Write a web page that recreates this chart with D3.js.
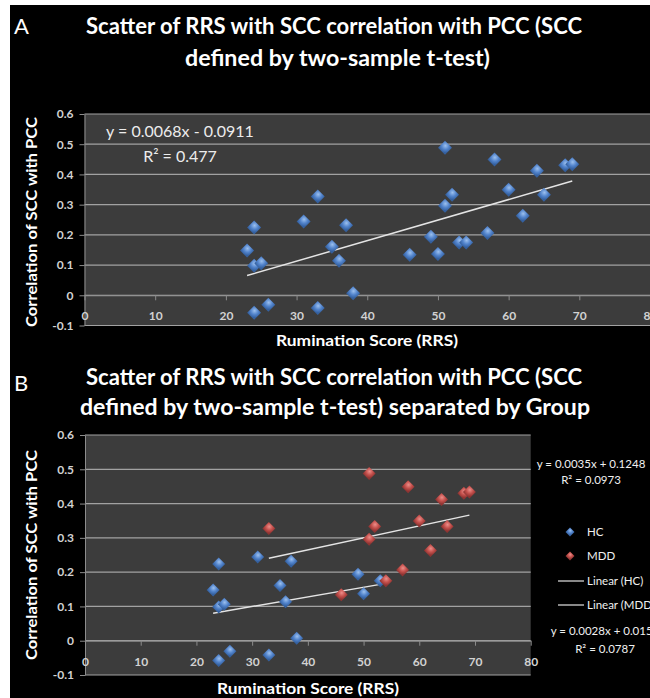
<!DOCTYPE html>
<html>
<head>
<meta charset="utf-8">
<title>RRS vs SCC-PCC correlation</title>
<script src="https://d3js.org/d3.v7.min.js"></script>
<style>
  body { margin: 0; background: #fff; }
  svg { display: block; }
  text { font-family: Lato, "Open Sans", sans-serif; }
</style>
</head>
<body>
<script>
// values
var hcRRS  = [23, 24, 24, 25, 24, 26, 31, 33, 35, 36, 37, 38, 49, 50, 53];
var hcCorr = [0.148, 0.224, 0.098, 0.106, -0.058, -0.031, 0.244, -0.042, 0.161, 0.114, 0.232, 0.007, 0.194, 0.137, 0.175];
var mddRRS  = [33, 46, 51, 51, 52, 54, 57, 58, 60, 62, 64, 65, 68, 69];
var mddCorr = [0.327, 0.134, 0.488, 0.296, 0.333, 0.175, 0.206, 0.449, 0.349, 0.263, 0.412, 0.333, 0.430, 0.434];

var xTicks = [0, 10, 20, 30, 40, 50, 60, 70, 80];
var yTicks = [-0.1, 0, 0.1, 0.2, 0.3, 0.4, 0.5, 0.6];

// trend lines as printed on the chart [slope, intercept]
var fitAll = [0.0068, -0.0911];
var fitHC  = [0.0028, 0.0159];
var fitMDD = [0.0035, 0.1248];

var legendNames = ["HC", "MDD", "Linear (HC)", "Linear (MDD)"];

var width = 650, height = 698;

var svg = d3.select("body").append("svg")
  .attr("width", width)
  .attr("height", height);

// black page with a thin white margin on left/top
svg.append("rect").attr("x", 10).attr("y", 5)
  .attr("width", width - 10).attr("height", height - 5)
  .attr("fill", "#000");

// diamond shading
var defs = svg.append("defs");
function grad(id, c0, c1, c2) {
  var g = defs.append("radialGradient").attr("id", id)
    .attr("cx", "38%").attr("cy", "32%").attr("r", "70%");
  g.append("stop").attr("offset", "0%").attr("stop-color", c0);
  g.append("stop").attr("offset", "55%").attr("stop-color", c1);
  g.append("stop").attr("offset", "100%").attr("stop-color", c2);
}
grad("gBlue", "#9cc0ee", "#5284cc", "#34609f");
grad("gRed", "#ec8e8a", "#c4504c", "#8e3432");

function pts(xs, ys) {
  return xs.map(function(v, i) { return {x: v, y: ys[i]}; });
}
var hc = pts(hcRRS, hcCorr);
var mdd = pts(mddRRS, mddCorr);

function diamond(g, data, fill, half, x, y) {
  var side = half * Math.SQRT2;
  g.selectAll(null).data(data).enter().append("path")
    .attr("d", d3.symbol(d3.symbolSquare, side * side)())
    .attr("transform", function(d) { return "translate(" + x(d.x) + "," + y(d.y) + ") rotate(45)"; })
    .attr("fill", fill);
}

function trend(g, fit, xs, x, y) {
  var x0 = d3.min(xs), x1 = d3.max(xs);
  g.append("line")
    .attr("x1", x(x0)).attr("y1", y(fit[0] * x0 + fit[1]))
    .attr("x2", x(x1)).attr("y2", y(fit[0] * x1 + fit[1]))
    .attr("stroke", "#e4e4e4").attr("stroke-width", 1.5);
}

function panel(box, labPad) {
  var x = d3.scaleLinear().domain([0, 80]).range([box.left, box.right]);
  var y = d3.scaleLinear().domain([-0.1, 0.6]).range([box.bottom, box.top]);
  var g = svg.append("g");

  g.append("rect")
    .attr("x", box.left).attr("y", box.top)
    .attr("width", box.right - box.left).attr("height", box.bottom - box.top)
    .attr("fill", "#3c3c3c");

  // gridlines
  g.selectAll(null).data(yTicks).enter().append("line")
    .attr("x1", box.left).attr("x2", box.right)
    .attr("y1", function(d) { return y(d); }).attr("y2", function(d) { return y(d); })
    .attr("stroke", "#a2a2a2").attr("stroke-width", 1.2);

  var yAx = g.append("g").attr("transform", "translate(" + box.left + ",0)")
    .call(d3.axisLeft(y).tickValues(yTicks).tickSize(5).tickSizeOuter(0).tickPadding(6)
      .tickFormat(function(d) { return d === 0 ? "0" : d.toFixed(1); }));

  var xAx = g.append("g").attr("transform", "translate(0," + y(0) + ")")
    .call(d3.axisBottom(x).tickValues(xTicks).tickSize(5).tickSizeOuter(0).tickPadding(labPad)
      .tickFormat(d3.format("d")));

  [yAx, xAx].forEach(function(a) {
    a.select(".domain").attr("stroke", "#8c8c8c");
    a.selectAll(".tick line").attr("stroke", "#8c8c8c");
    a.selectAll(".tick text").attr("fill", "#d2d2d2")
      .style("font-size", "12px").style("font-weight", "bold");
  });

  return {g: g, x: x, y: y};
}

function title(lines, tag, tagY) {
  svg.append("text").attr("x", 14).attr("y", tagY).text(tag)
    .attr("fill", "#fff").style("font-size", "22px");
  lines.forEach(function(l) {
    svg.append("text").attr("x", l.x).attr("y", l.y).text(l.t)
      .attr("textLength", l.w).attr("lengthAdjust", "spacingAndGlyphs")
      .attr("fill", "#fff").style("font-size", "22px").style("font-weight", "bold");
  });
}

function axisTitles(cx, by, cy) {
  svg.append("text").attr("x", cx).attr("y", by).text("Rumination Score (RRS)")
    .attr("text-anchor", "middle").attr("textLength", 182).attr("lengthAdjust", "spacingAndGlyphs")
    .attr("fill", "#fff").style("font-size", "15px").style("font-weight", "bold");
  svg.append("text")
    .attr("transform", "translate(37," + cy + ") rotate(-90)")
    .text("Correlation of SCC with PCC")
    .attr("text-anchor", "middle").attr("textLength", 210).attr("lengthAdjust", "spacingAndGlyphs")
    .attr("fill", "#fff").style("font-size", "15px").style("font-weight", "bold");
}

// ---- panel A
title([
  {t: "Scatter of RRS with SCC correlation with PCC (SCC", x: 86, y: 34, w: 496},
  {t: "defined by two-sample t-test)", x: 185, y: 66, w: 305}
], "A", 34);

var A = panel({left: 84.5, right: 650, top: 114, bottom: 325.5}, 11);
var all = hc.concat(mdd);
trend(A.g, fitAll, hcRRS.concat(mddRRS), A.x, A.y);
diamond(A.g, all, "url(#gBlue)", 7, A.x, A.y);

A.g.append("text").attr("x", 180).attr("y", 137).attr("text-anchor", "middle")
  .text("y = 0.0068x - 0.0911").attr("fill", "#ececec").style("font-size", "16px");
A.g.append("text").attr("x", 180).attr("y", 162).attr("text-anchor", "middle")
  .text("R² = 0.477").attr("fill", "#ececec").style("font-size", "16px");

axisTitles(367, 346, 222);

// ---- panel B
title([
  {t: "Scatter of RRS with SCC correlation with PCC (SCC", x: 86, y: 385, w: 496},
  {t: "defined by two-sample t-test) separated by Group", x: 80, y: 415, w: 510}
], "B", 391);

var B = panel({left: 85, right: 530.7, top: 435, bottom: 675}, 12);
trend(B.g, fitHC, hcRRS, B.x, B.y);
trend(B.g, fitMDD, mddRRS, B.x, B.y);
diamond(B.g, hc, "url(#gBlue)", 6.5, B.x, B.y);
diamond(B.g, mdd, "url(#gRed)", 6.5, B.x, B.y);

axisTitles(308, 694, 555);

// equations at the right of panel B
var eq = svg.append("g").attr("fill", "#f0f0f0").style("font-size", "11.5px").attr("text-anchor", "middle");
eq.append("text").attr("x", 591).attr("y", 468).text("y = 0.0035x + 0.1248");
eq.append("text").attr("x", 591).attr("y", 484).text("R² = 0.0973");
eq.append("text").attr("x", 605).attr("y", 635).text("y = 0.0028x + 0.0159");
eq.append("text").attr("x", 605).attr("y", 653).text("R² = 0.0787");

// legend
var leg = svg.append("g");
var legY = [532, 556, 581, 605];
legendNames.forEach(function(n, i) {
  if (i < 2) {
    var s = 4.5 * Math.SQRT2;
    leg.append("path").attr("d", d3.symbol(d3.symbolSquare, s * s)())
      .attr("transform", "translate(570," + legY[i] + ") rotate(45)")
      .attr("fill", i === 0 ? "url(#gBlue)" : "url(#gRed)");
  } else {
    leg.append("line").attr("x1", 558).attr("x2", 584)
      .attr("y1", legY[i]).attr("y2", legY[i])
      .attr("stroke", "#e4e4e4").attr("stroke-width", 1.2);
  }
  leg.append("text").attr("x", 587).attr("y", legY[i]).attr("dy", "0.35em")
    .text(n).attr("fill", "#f0f0f0").style("font-size", "11.5px");
});
</script>
</body>
</html>
